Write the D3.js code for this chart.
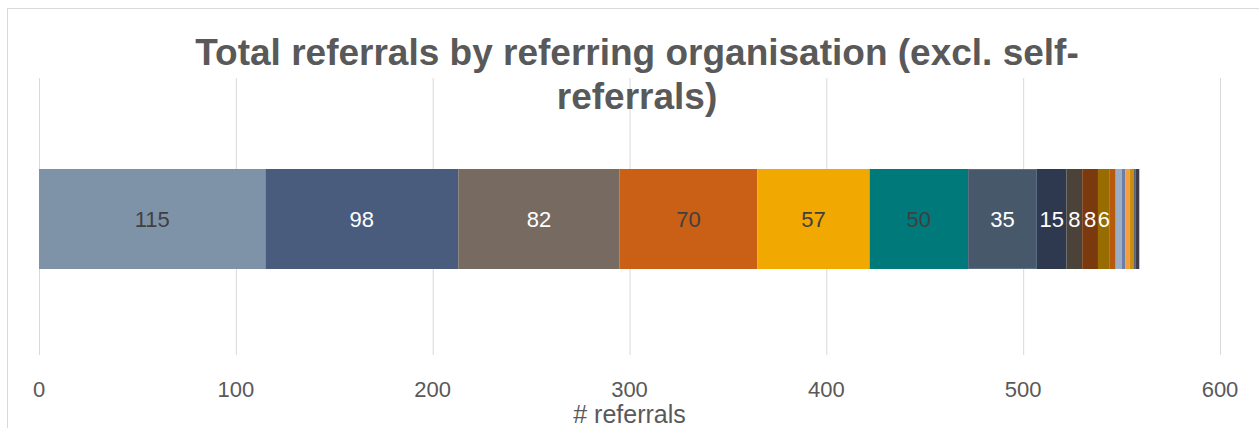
<!DOCTYPE html>
<html>
<head>
<meta charset="utf-8">
<script src="https://cdn.jsdelivr.net/npm/d3@7"></script>
<style>
  html, body { margin: 0; padding: 0; background: #fff; }
  svg { display: block; font-family: "Liberation Sans", Arial, sans-serif; }
</style>
</head>
<body>
<svg id="chart" width="1259" height="428"></svg>
<script>
// Referrals per referring organisation, stacked left to right
const organisations = ["Org 1","Org 2","Org 3","Org 4","Org 5","Org 6","Org 7","Org 8","Org 9","Org 10","Org 11","Org 12","Org 13","Org 14","Org 15","Org 16","Org 17","Org 18"];
const referrals = [115, 98, 82, 70, 57, 50, 35, 15, 8, 8, 6, 3, 3, 2, 2, 2, 1, 2];
const segmentColors = ["#7F93A8","#4A5C7E","#776B61","#CA5F16","#F1A800","#00797B","#48586B","#2E3950","#4B4239","#7B3A0E","#976C00","#B85A0B","#9AAEC5","#6C7EA6","#F29E3E","#C98E12","#566578","#3C3C4A"];
const labelColors = ["#404040","#ffffff","#ffffff","#404040","#404040","#404040","#ffffff","#ffffff","#ffffff","#ffffff","#ffffff"];
const xTicks = [0, 100, 200, 300, 400, 500, 600];
const titleLines = ["Total referrals by referring organisation (excl. self-", "referrals)"];
const axisTitle = "# referrals";

const svg = d3.select("#chart");
const W = 1259, H = 428;

// chart frame
svg.append("rect")
  .attr("x", 7.5).attr("y", 8.5)
  .attr("width", W + 10).attr("height", H + 10)
  .attr("fill", "#fff").attr("stroke", "#d9d9d9").attr("stroke-width", 1);

const x = d3.scaleLinear().domain([0, 600]).range([39, 1220]);

// vertical gridlines
svg.append("g").selectAll("line")
  .data(xTicks)
  .join("line")
  .attr("x1", d => x(d) + 0.5).attr("x2", d => x(d) + 0.5)
  .attr("y1", 78).attr("y2", 355)
  .attr("stroke", "#d9d9d9").attr("stroke-width", 1);

// stacked segments
const cum = d3.cumsum(referrals);
const segs = referrals.map((v, i) => ({
  name: organisations[i], value: v, start: cum[i] - v, end: cum[i], color: segmentColors[i], i
}));

const barY = 169, barH = 100;
svg.append("g").selectAll("rect")
  .data(segs)
  .join("rect")
  .attr("x", d => x(d.start))
  .attr("y", barY)
  .attr("width", d => x(d.end) - x(d.start))
  .attr("height", barH)
  .attr("fill", d => d.color);

// outline on the seventh segment
svg.append("rect")
  .attr("x", x(segs[6].start) + 0.5).attr("y", barY + 0.5)
  .attr("width", x(segs[6].end) - x(segs[6].start) - 1).attr("height", barH - 1)
  .attr("fill", "none").attr("stroke", "#5d6f84").attr("stroke-width", 1);

// value labels
svg.append("g").selectAll("text")
  .data(segs.filter(d => d.i < labelColors.length))
  .join("text")
  .attr("x", d => (x(d.start) + x(d.end)) / 2)
  .attr("y", barY + barH / 2 + 8)
  .attr("text-anchor", "middle")
  .attr("font-size", 22)
  .attr("fill", d => labelColors[d.i])
  .text(d => d.value);

// x axis tick labels
svg.append("g").selectAll("text")
  .data(xTicks)
  .join("text")
  .attr("x", d => x(d))
  .attr("y", 397)
  .attr("text-anchor", "middle")
  .attr("font-size", 22)
  .attr("fill", "#595959")
  .text(d => d);

// axis title
svg.append("text")
  .attr("x", (x(0) + x(600)) / 2)
  .attr("y", 423)
  .attr("text-anchor", "middle")
  .attr("font-size", 25)
  .attr("fill", "#595959")
  .text(axisTitle);

// chart title
svg.append("g").selectAll("text")
  .data(titleLines)
  .join("text")
  .attr("x", 637)
  .attr("y", (d, i) => 65 + i * 44)
  .attr("text-anchor", "middle")
  .attr("font-size", 37)
  .attr("font-weight", "bold")
  .attr("fill", "#595959")
  .text(d => d);
</script>
</body>
</html>
